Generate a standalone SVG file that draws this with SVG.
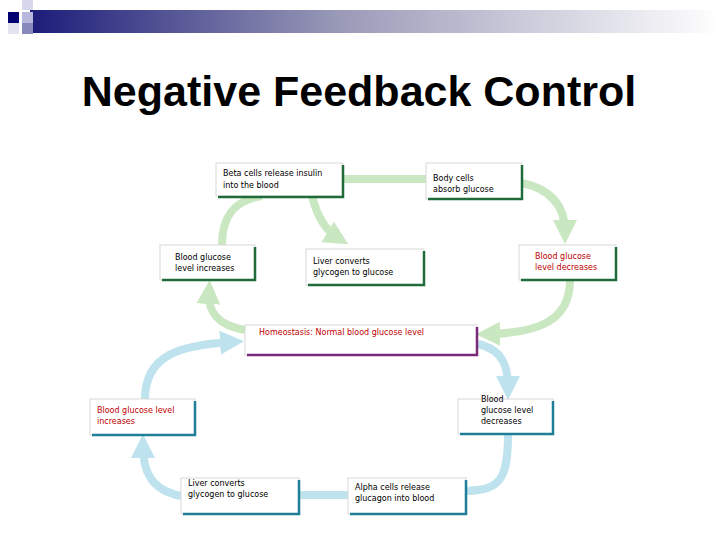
<svg xmlns="http://www.w3.org/2000/svg" width="720" height="540" viewBox="0 0 720 540">
<defs>
<linearGradient id="bar" x1="0" y1="0" x2="1" y2="0">
<stop offset="0" stop-color="#1c1c7a"/><stop offset="0.45" stop-color="#9a9ab8"/><stop offset="1" stop-color="#ffffff"/>
</linearGradient>
<marker id="ag" viewBox="0 0 10 10" refX="5" refY="5" markerWidth="3" markerHeight="3" orient="auto" markerUnits="strokeWidth"><path d="M0,0 L10,5 L0,10 z" fill="#c9e7c1"/></marker>
<marker id="ab" viewBox="0 0 10 10" refX="5" refY="5" markerWidth="3" markerHeight="3" orient="auto" markerUnits="strokeWidth"><path d="M0,0 L10,5 L0,10 z" fill="#bfe3ee"/></marker>
<style>
.g{fill:none;stroke:#c9e7c1;stroke-width:8}
.b{fill:none;stroke:#bfe3ee;stroke-width:8}
.bx{fill:#fff;stroke:#d8d8d8;stroke-width:1}
.sg{fill:none;stroke:#1f6b3a;stroke-width:2.5}
.sb{fill:none;stroke:#1f7f98;stroke-width:2.5}
.sp{fill:none;stroke:#7a2a78;stroke-width:2.5}
text{font-family:"DejaVu Sans",sans-serif;font-size:8px;fill:#000}
.r{fill:#c00000}
</style>
</defs>
<rect x="30" y="10" width="690" height="23" fill="url(#bar)"/>
<rect x="22" y="0" width="11" height="10" fill="#d8d8ec"/>
<rect x="8" y="12" width="11" height="11" fill="#000070"/>
<rect x="22" y="12" width="11" height="11" fill="#b8b8dc"/>
<rect x="22" y="23" width="11" height="11" fill="#8888bb"/>
<rect x="8" y="23" width="11" height="11" fill="#e4e4f0"/>
<text x="359" y="106" text-anchor="middle" style="font-family:'Liberation Sans',Arial,sans-serif;font-size:43px;font-weight:bold">Negative Feedback Control</text>
<g id="connectors">
<path class="g" d="M343,179 H426"/>
<path class="g" d="M245,330 C215,325 208,310 209,292" marker-end="url(#ag)"/>
<path class="g" d="M222,245 C222,215 235,200 262,196"/>
<path class="g" d="M312,196 C318,220 328,232 338,238" marker-end="url(#ag)"/>
<path class="g" d="M522,183 C555,190 565,210 565,232" marker-end="url(#ag)"/>
<path class="g" d="M570,280 C570,320 540,333 488,334" marker-end="url(#ag)"/>
<path class="b" d="M145,399 C145,355 180,345 232,342" marker-end="url(#ab)"/>
<path class="b" d="M478,344 C505,350 508,370 508,388" marker-end="url(#ab)"/>
<path class="b" d="M508,434 C508,480 500,490 466,491"/>
<path class="b" d="M299,495 H348"/>
<path class="b" d="M181,496 C150,490 143,470 143,446" marker-end="url(#ab)"/>
</g>
<g id="n1"><rect class="bx" x="216" y="163" width="127" height="33"/><path class="sg" d="M343,165 V197 H218"/><text x="223" y="176">Beta cells release insulin</text><text x="223" y="188">into the blood</text></g>
<g id="n2"><rect class="bx" x="426" y="163" width="96" height="36"/><path class="sg" d="M522,165 V199 H428"/><text x="433" y="181">Body cells</text><text x="433" y="192">absorb glucose</text></g>
<g id="n3"><rect class="bx" x="160" y="245" width="95" height="35"/><path class="sg" d="M255,247 V280 H162"/><text x="175" y="260">Blood glucose</text><text x="175" y="271">level increases</text></g>
<g id="n4"><rect class="bx" x="306" y="249" width="118" height="36"/><path class="sg" d="M424,251 V285 H308"/><text x="313" y="264">Liver converts</text><text x="313" y="275">glycogen to glucose</text></g>
<g id="n5"><rect class="bx" x="519" y="245" width="97" height="35"/><path class="sg" d="M616,247 V280 H521"/><text class="r" x="535" y="259">Blood glucose</text><text class="r" x="535" y="270">level decreases</text></g>
<g id="n6"><rect class="bx" x="245" y="325" width="232" height="30"/><path class="sp" d="M477,327 V355 H247"/><text class="r" x="259" y="335">Homeostasis: Normal blood glucose level</text></g>
<g id="n7"><rect class="bx" x="90" y="399" width="105" height="36"/><path class="sb" d="M195,401 V435 H92"/><text class="r" x="97" y="413">Blood glucose level</text><text class="r" x="97" y="424">increases</text></g>
<g id="n8"><rect class="bx" x="458" y="399" width="95" height="35"/><path class="sb" d="M553,401 V434 H460"/><text x="481" y="402">Blood</text><text x="481" y="413">glucose level</text><text x="481" y="424">decreases</text></g>
<g id="n9"><rect class="bx" x="181" y="478" width="118" height="36"/><path class="sb" d="M299,480 V514 H183"/><text x="188" y="486">Liver converts</text><text x="188" y="497">glycogen to glucose</text></g>
<g id="n10"><rect class="bx" x="348" y="478" width="118" height="36"/><path class="sb" d="M466,480 V514 H350"/><text x="355" y="490">Alpha cells release</text><text x="355" y="501">glucagon into blood</text></g>
</svg>
